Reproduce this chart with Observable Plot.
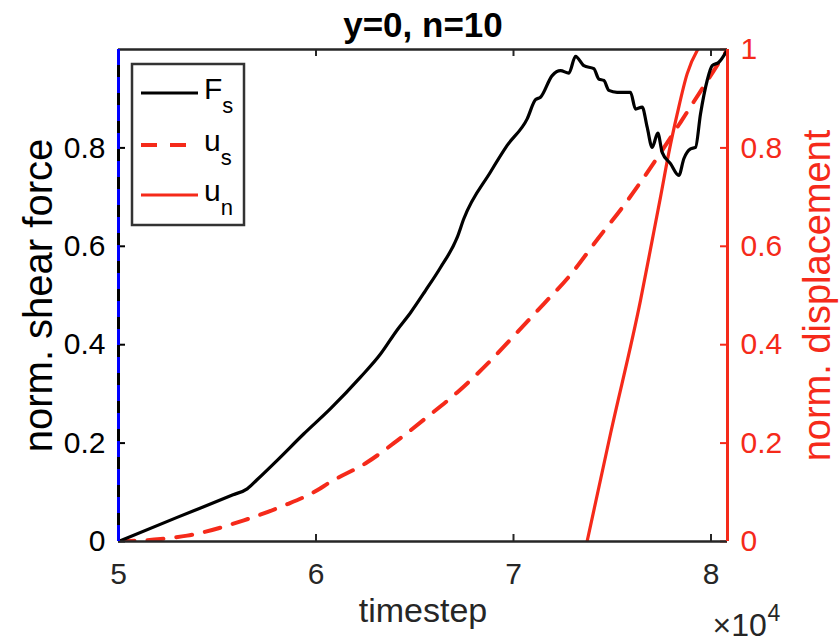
<!DOCTYPE html>
<html>
<head>
<meta charset="utf-8">
<script src="https://cdn.jsdelivr.net/npm/d3@7"></script>
<script src="https://cdn.jsdelivr.net/npm/@observablehq/plot@0.6"></script>
<style>
  html, body { margin: 0; padding: 0; background: #fff; }
  #wrap { position: relative; width: 840px; height: 643px; font-family: "Liberation Sans", Arial, sans-serif; }
  #legend { position: absolute; left: 0; top: 0; pointer-events: none; }
</style>
</head>
<body>
<div id="wrap"></div>
<script>
// ---- data ----
const titleText = "y=0, n=10";
const xLabel = "timestep";
const yLeftLabel = "norm. shear force";
const yRightLabel = "norm. displacement";
const xDomain = [50000, 80835];
const xTicks = [50000, 60000, 70000, 80000];
const leftTicks = [0, 0.2, 0.4, 0.6, 0.8];
const rightTicks = [0, 0.2, 0.4, 0.6, 0.8, 1];
const markerLineX = [50000];

// F_s : normalised shear force
const fsTime  = [50000, 52970, 55800, 56516, 57000, 58035, 59387, 60734, 62253, 63266, 64110, 64785, 65544, 66304, 67149, 67484, 68835, 69679, 70692, 71114, 71367, 71958, 72380, 72802, 73139, 73561, 74068, 74321, 74574, 74827, 75245, 75924, 76177, 76515, 76768, 77021, 77306, 77528, 77949, 78370, 78624, 78962, 79215, 79468, 79806, 80059, 80397, 80835];
const fsValue = [0, 0.049, 0.095, 0.107, 0.125, 0.165, 0.219, 0.270, 0.334, 0.381, 0.430, 0.465, 0.510, 0.557, 0.618, 0.656, 0.751, 0.805, 0.859, 0.898, 0.903, 0.947, 0.957, 0.952, 0.986, 0.967, 0.961, 0.940, 0.937, 0.917, 0.913, 0.913, 0.879, 0.883, 0.842, 0.801, 0.830, 0.791, 0.768, 0.744, 0.778, 0.798, 0.801, 0.869, 0.937, 0.967, 0.974, 1.0];

// u_s : normalised shear displacement
const usTime  = [50000, 52127, 53478, 56346, 58371, 60059, 60650, 62591, 64110, 65629, 67149, 68751, 70186, 71536, 72800, 74321, 75587, 76430, 77528, 78456, 79468, 80143, 80835];
const usValue = [0, 0.005, 0.012, 0.043, 0.073, 0.104, 0.119, 0.161, 0.205, 0.253, 0.303, 0.364, 0.425, 0.483, 0.538, 0.618, 0.683, 0.730, 0.795, 0.852, 0.915, 0.957, 1.0];

// u_n : normalised normal displacement
const unTime  = [73726, 74911, 76430, 77021, 77443, 77863, 78289, 78795, 79301, 79500];
const unValue = [0, 0.219, 0.490, 0.612, 0.700, 0.790, 0.869, 0.951, 0.998, 1.01];

// legend entries
const legendMain = ["F", "u", "u"];
const legendSub  = ["s", "s", "n"];

// ---- styles ----
const red = "#f52a1a";
const axisGray = "#262626";
const W = 840, H = 643;
const mL = 118, mR = 113, mT = 49, mB = 102;
const fh = H - mT - mB, fw = W - mL - mR;
const tk = 7;
const fontFamily = "Liberation Sans, Arial, sans-serif";

const chart = Plot.plot({
  width: W, height: H,
  marginLeft: mL, marginRight: mR, marginTop: mT, marginBottom: mB,
  style: { fontFamily, background: "white", overflow: "visible" },
  x: { domain: xDomain },
  y: { domain: [0, 1] },
  marks: [
    // inward tick marks
    Plot.ruleX(xTicks, { stroke: axisGray, strokeWidth: 2, insetTop: fh - tk }),
    Plot.ruleX(xTicks, { stroke: axisGray, strokeWidth: 2, insetBottom: fh - tk }),
    Plot.ruleY(leftTicks, { stroke: "black", strokeWidth: 2, insetRight: fw - tk }),
    Plot.ruleY(rightTicks, { stroke: red, strokeWidth: 2, insetLeft: fw - tk }),
    // series
    Plot.line(usValue, { x: usTime, y: usValue, stroke: red, strokeWidth: 4, strokeDasharray: "16,13", curve: "monotone-x", clip: true }),
    Plot.line(unValue, { x: unTime, y: unValue, stroke: red, strokeWidth: 3.2, curve: "monotone-x", clip: true }),
    Plot.line(fsValue, { x: fsTime, y: fsValue, stroke: "black", strokeWidth: 3.2, curve: "monotone-x", clip: true }),
    // box lines
    Plot.ruleY([0], { stroke: axisGray, strokeWidth: 2.5 }),
    Plot.ruleY([1], { stroke: axisGray, strokeWidth: 2.5 }),
    Plot.ruleX(markerLineX, { stroke: "black", strokeWidth: 3 }),
    Plot.ruleX(markerLineX, { stroke: "blue", strokeWidth: 3, strokeDasharray: "16,12" }),
    Plot.ruleX([xDomain[1]], { stroke: red, strokeWidth: 3 }),
    // axes tick labels
    Plot.axisX({ ticks: xTicks, tickFormat: d => String(d / 10000), tickSize: 0, tickPadding: 21, fontSize: 30, fill: axisGray, label: null }),
    Plot.axisY({ anchor: "left", ticks: leftTicks, tickFormat: d => String(d), tickSize: 0, tickPadding: 13, fontSize: 30, fill: "black", label: null }),
    Plot.axisY({ anchor: "right", ticks: rightTicks, tickFormat: d => String(d), tickSize: 0, tickPadding: 13, fontSize: 30, fill: red, label: null }),
    // axis titles
    Plot.text([xLabel], { text: d => d, frameAnchor: "bottom", dy: 56, lineAnchor: "top", textAnchor: "middle", fontSize: 34, fill: axisGray }),
    Plot.text([yLeftLabel], { text: d => d, frameAnchor: "left", dx: -79, rotate: -90, textAnchor: "middle", lineAnchor: "middle", fontSize: 40, fill: "black" }),
    Plot.text([yRightLabel], { text: d => d, frameAnchor: "right", dx: 90, rotate: -90, textAnchor: "middle", lineAnchor: "middle", fontSize: 38, fill: red }),
    Plot.text([titleText], { text: d => d, frameAnchor: "top", dy: -13, lineAnchor: "bottom", textAnchor: "middle", fontSize: 35, fontWeight: "bold", fill: "black" }),
    // exponent
    Plot.text(["\u00d710"], { text: d => d, frameAnchor: "bottom-right", dx: -15, dy: 94, textAnchor: "start", lineAnchor: "bottom", fontSize: 32, fill: axisGray }),
    Plot.text(["4"], { text: d => d, frameAnchor: "bottom-right", dx: 40, dy: 79, textAnchor: "start", lineAnchor: "bottom", fontSize: 23, fill: axisGray })
  ]
});

const wrap = document.getElementById("wrap");
wrap.appendChild(chart);

// ---- legend (overlay, real text) ----
const lg = d3.select(wrap).append("svg")
  .attr("id", "legend").attr("width", W).attr("height", H);
const box = { x: 132, y: 64, w: 112, h: 161 };
lg.append("rect").attr("x", box.x).attr("y", box.y).attr("width", box.w).attr("height", box.h)
  .attr("fill", "white").attr("stroke", "#333").attr("stroke-width", 2.5);
const rowY = [93, 145, 195];
const rowStyle = [
  { stroke: "black", dash: null, w: 3.2 },
  { stroke: red, dash: "16,13", w: 4 },
  { stroke: red, dash: null, w: 3.2 }
];
legendMain.forEach((m, i) => {
  lg.append("line").attr("x1", 141).attr("x2", 198).attr("y1", rowY[i]).attr("y2", rowY[i])
    .attr("stroke", rowStyle[i].stroke).attr("stroke-width", rowStyle[i].w)
    .attr("stroke-dasharray", rowStyle[i].dash);
  const t = lg.append("text").attr("x", 204).attr("y", rowY[i] + 6)
    .attr("font-family", fontFamily).attr("font-size", 30).attr("fill", "black").text(m);
  t.append("tspan").attr("dy", 14).attr("font-size", 22).text(legendSub[i]);
});
</script>
</body>
</html>
